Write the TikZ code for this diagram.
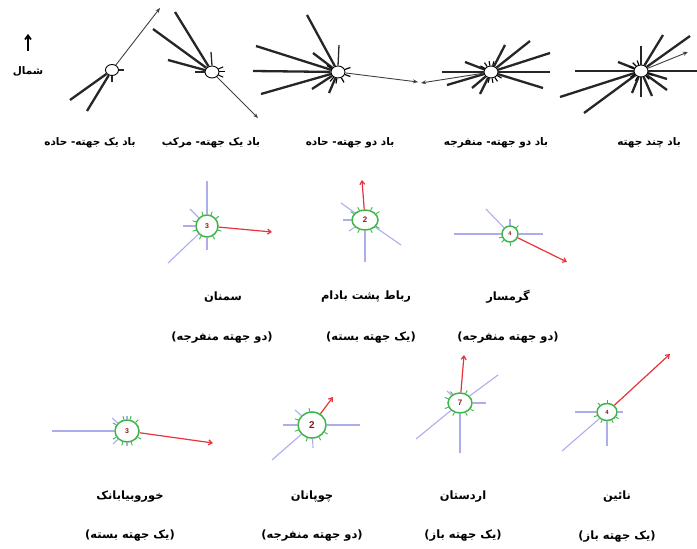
\documentclass[tikz,border=0pt]{standalone}
\usepackage{fontspec}
\setmainfont{Liberation Sans}
\newfontfamily\fa[Script=Arabic]{DejaVu Sans}
\TeXXeTstate=1
\usetikzlibrary{shapes.geometric,arrows.meta,calc}
\definecolor{rosegreen}{HTML}{3DB54A}
\definecolor{raylav}{HTML}{ADADEE}
\definecolor{arrowred}{HTML}{E8333A}
\definecolor{numred}{HTML}{8B1A1A}
\tikzset{
  hub/.style={ellipse, draw=black, line width=0.9bp, fill=white, inner sep=0pt},
  heavy/.style={line width=2.3bp, black!85},
  fine/.style={line width=0.9bp, black!75, -{Stealth[length=5bp,width=4bp]}},
  tickmark/.style={line width=1.3bp, black!85},
  station/.style={ellipse, draw=rosegreen, line width=1.5bp, fill=white, inner sep=0pt,
                  text=numred, font=\bfseries\fontsize{7}{7}\selectfont},
  calm/.style={line width=1.1bp, raylav},
  gtick/.style={line width=0.9bp, rosegreen},
  prevail/.style={line width=1.2bp, arrowred, -{Straight Barb[length=3.5bp,width=5bp]}},
  caption/.style={font=\fa\bfseries\fontsize{10.5}{11}\selectfont},
  place/.style={font=\fa\bfseries\fontsize{11.5}{13}\selectfont},
}
\begin{document}
\begin{tikzpicture}[x=1bp,y=-1bp]
\useasboundingbox (0,0) rectangle (697,549);

% ---------- north sign ----------
\coordinate (nfoot) at (28,51);
\coordinate (nhead) at (28,34);
\draw[line width=1.8bp, -{Straight Barb[length=4bp,width=6bp]}] (nfoot) -- (nhead);
\node[font=\fa\bfseries\fontsize{10.5}{11}\selectfont] (north) at (28,71) {\beginR شمال\endR};

% ---------- wind types ----------
% one-directional, acute
\node[hub, minimum width=13bp, minimum height=11bp] (f1) at (112,70) {};
\foreach \p in {(70,100),(87,111)} \draw[heavy] (f1) -- \p;
\draw[fine] (f1) -- (160,8);
\draw[tickmark] (f1.east) -- ++(5,0);
\draw[tickmark] (f1.south) -- ++(0,6);

% one-directional, compound
\node[hub, minimum width=14bp, minimum height=12bp] (f2) at (212,72) {};
\foreach \p in {(153,29),(175,12),(168,60)} \draw[heavy] (f2) -- \p;
\draw[fine] (f2) -- (258,118);
\draw[tickmark] (f2.north) -- (211,52);
\draw[tickmark] (f2.west) -- ++(-10,0);
\foreach \a in {25,0,-25} \draw[line width=1bp] (f2.\a) -- ($(f2.center)!1.7!(f2.\a)$);

% two-directional, acute
\node[hub, minimum width=14bp, minimum height=12bp] (f3) at (338,72) {};
\foreach \p in {(307,15),(256,46),(253,71),(261,94),(313,53),(312,89),(329,93)} \draw[heavy] (f3) -- \p;
\draw[tickmark] (f3.north) -- (339,45);
\foreach \a in {20,-20,-60,-100,-130,150} \draw[line width=1.2bp] (f3.\a) -- ($(f3.center)!1.8!(f3.\a)$);
\draw[fine] (f3) -- (418,82);

% two-directional, obtuse
\node[hub, minimum width=14bp, minimum height=12bp] (f4) at (491,72) {};
\foreach \p in {(442,72),(550,72),(550,53),(530,41),(505,45),(543,88),(447,85),(472,88),(480,94),(465,62)} \draw[heavy] (f4) -- \p;
\foreach \a in {75,100,125,150,-30,-55,-80,-105} \draw[line width=1.1bp] (f4.\a) -- ($(f4.center)!1.7!(f4.\a)$);
\draw[fine] (f4) -- (421,83);

% multi-directional
\node[hub, minimum width=14bp, minimum height=12bp] (f5) at (641,71) {};
\foreach \p in {(575,71),(697,71),(560,97),(584,113),(663,35),(690,36),(641,46),(641,97),(618,62),(667,79),(667,90),(632,93),(652,96)} \draw[heavy] (f5) -- \p;
\foreach \a in {110,135,160,-20,-45,-120,-150} \draw[line width=1.1bp] (f5.\a) -- ($(f5.center)!1.7!(f5.\a)$);
\draw[fine] (f5) -- (688,52);

\node[caption] (c1) at (90,143) {\beginR باد یک جهته- حاده\endR};
\node[caption] (c2) at (211,143) {\beginR باد یک جهته- مرکب\endR};
\node[caption] (c3) at (350,143) {\beginR باد دو جهته- حاده\endR};
\node[caption] (c4) at (496,143) {\beginR باد دو جهته- منفرجه\endR};
\node[caption] (c5) at (649,143) {\beginR باد چند جهته\endR};

% ---------- stations, middle row ----------
% Semnan
\node[station, minimum width=22bp, minimum height=22bp] (s1) at (207,226) {3};
\foreach \p in {(207,181),(207,250),(183,226),(168,263),(190,209)} \draw[calm] (s1) -- \p;
\foreach \a in {40,70,110,160,200,-20,-60,-120} \draw[gtick] (s1.\a) -- ($(s1.center)!1.3!(s1.\a)$);
\draw[prevail] (s1) -- (272,232);

% Robat-e Posht-e Badam
\node[station, minimum width=26bp, minimum height=20bp, font=\bfseries\fontsize{8}{8}\selectfont] (s2) at (365,220) {2};
\foreach \p in {(365,262),(401,245),(341,203),(343,220),(349,231)} \draw[calm] (s2) -- \p;
\foreach \a in {30,60,120,150,-30,-60,-120} \draw[gtick] (s2.\a) -- ($(s2.center)!1.3!(s2.\a)$);
\draw[prevail] (s2) -- (362,180);

% Garmsar
\node[station, minimum width=16bp, minimum height=16bp, font=\bfseries\fontsize{5.5}{6}\selectfont] (s3) at (510,234) {4};
\foreach \p in {(454,234),(543,234),(486,209),(510,219)} \draw[calm] (s3) -- \p;
\foreach \a in {45,-90,-135,200} \draw[gtick] (s3.\a) -- ($(s3.center)!1.35!(s3.\a)$);
\draw[prevail] (s3) -- (567,262);

\node[place] (n1) at (223,297) {\beginR سمنان\endR};
\node[place] (n2) at (366,297) {\beginR رباط پشت بادام\endR};
\node[place] (n3) at (508,297) {\beginR گرمسار\endR};
\node[place] (k1) at (222,338) {\beginR (دو جهته منفرجه)\endR};
\node[place] (k2) at (371,338) {\beginR (یک جهته بسته)\endR};
\node[place] (k3) at (508,338) {\beginR (دو جهته منفرجه)\endR};

% ---------- stations, bottom row ----------
% Khur-o-Biabanak
\node[station, minimum width=24bp, minimum height=22bp] (s4) at (127,431) {3};
\foreach \p in {(52,431),(127,416),(112,418),(113,444),(127,446)} \draw[calm] (s4) -- \p;
\foreach \a in {45,75,105,150,210,250,290,-30} \draw[gtick] (s4.\a) -- ($(s4.center)!1.3!(s4.\a)$);
\draw[prevail] (s4) -- (213,443);

% Chupanan
\node[station, minimum width=28bp, minimum height=26bp, font=\bfseries\fontsize{10}{10}\selectfont] (s5) at (312,425) {2};
\foreach \p in {(283,425),(360,425),(272,460),(313,448),(295,410)} \draw[calm] (s5) -- \p;
\foreach \a in {100,160,200,-30,-60,-110} \draw[gtick] (s5.\a) -- ($(s5.center)!1.25!(s5.\a)$);
\draw[prevail] (s5) -- (333,397);

% Ardestan
\node[station, minimum width=24bp, minimum height=20bp, font=\bfseries\fontsize{8}{8}\selectfont] (s6) at (460,403) {7};
\foreach \p in {(498,375),(416,439),(460,453),(486,403),(447,391)} \draw[calm] (s6) -- \p;
\foreach \a in {60,130,160,200,-30,-60,-120} \draw[gtick] (s6.\a) -- ($(s6.center)!1.3!(s6.\a)$);
\draw[prevail] (s6) -- (464,355);

% Naein
\node[station, minimum width=20bp, minimum height=17bp, font=\bfseries\fontsize{6}{6}\selectfont] (s7) at (607,412) {4};
\foreach \p in {(575,412),(623,412),(607,446),(562,451)} \draw[calm] (s7) -- \p;
\foreach \a in {90,135,200,-30,-60,-120} \draw[gtick] (s7.\a) -- ($(s7.center)!1.3!(s7.\a)$);
\draw[prevail] (s7) -- (670,354);

\node[place] (n4) at (130,497) {\beginR خوروبیابانک\endR};
\node[place] (n5) at (312,497) {\beginR چوپانان\endR};
\node[place] (n6) at (463,497) {\beginR اردستان\endR};
\node[place] (n7) at (617,497) {\beginR نائین\endR};
\node[place] (k4) at (130,536) {\beginR (یک جهته بسته)\endR};
\node[place] (k5) at (312,536) {\beginR (دو جهته منفرجه)\endR};
\node[place] (k6) at (463,536) {\beginR (یک جهته باز)\endR};
\node[place] (k7) at (617,537) {\beginR (یک جهته باز)\endR};
\end{tikzpicture}
\end{document}
